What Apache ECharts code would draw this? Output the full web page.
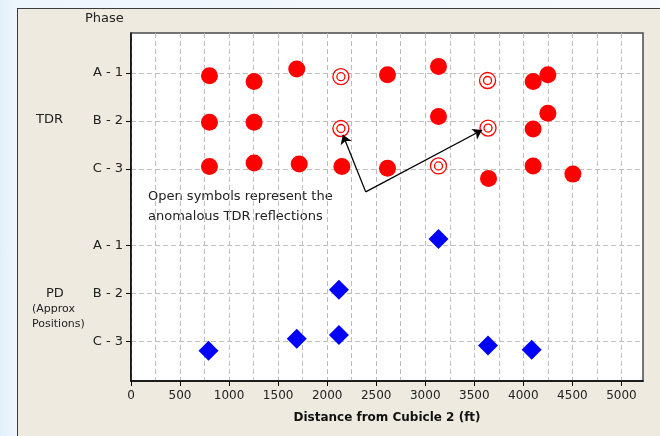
<!DOCTYPE html>
<html>
<head>
<meta charset="utf-8">
<script src="https://cdn.jsdelivr.net/npm/echarts@6/dist/echarts.min.js"></script>
<style>
  html, body { margin: 0; padding: 0; }
  body {
    width: 660px; height: 436px; overflow: hidden; position: relative;
    background: linear-gradient(to right, #e3f0fb 0px, #eef6fd 17px, #f6fafe 100%);
  }
  #panel {
    position: absolute; left: 17px; top: 8px; width: 660px; height: 440px;
    background: #eeeae0; border-left: 1.5px solid #3c3c3c; border-top: 1.5px solid #3c3c3c;
  }
  #chart { position: absolute; left: 0; top: 0; width: 660px; height: 436px; }
</style>
</head>
<body>
<div id="panel"></div>
<div id="chart"></div>
<script>
// 坐标刻度
var xTicks = [0, 500, 1000, 1500, 2000, 2500, 3000, 3500, 4000, 4500, 5000];
var rowValues = [1, 2, 3, 4.6, 5.6, 6.6];
var rowLabels = ["A - 1", "B - 2", "C - 3", "A - 1", "B - 2", "C - 3"];

// TDR 实心点 [距离, 相位行]
var tdrSolid = [
  [800, 1.06], [1255, 1.18], [1690, 0.92], [2615, 1.04], [3135, 0.87], [4100, 1.18], [4250, 1.04],
  [800, 2.03], [1255, 2.03], [3135, 1.91], [4100, 2.17], [4250, 1.84],
  [800, 2.95], [1255, 2.88], [1715, 2.90], [2150, 2.95], [2615, 2.99], [3645, 3.20], [4100, 2.94], [4505, 3.11]
];
// TDR 空心点（异常反射）
var tdrOpen = [
  [2140, 1.08], [3635, 1.16],
  [2140, 2.16], [3640, 2.15],
  [3135, 2.94]
];
// PD 菱形
var pdPoints = [
  [3135, 4.46],
  [2120, 5.52],
  [2120, 6.46], [1690, 6.54], [790, 6.79], [3640, 6.68], [4085, 6.77]
];

var font = "DejaVu Sans";
var myChart = echarts.init(document.getElementById("chart"));

var option = {
  backgroundColor: "transparent",
  animation: false,
  grid: {
    left: 131, right: 17, top: 33, bottom: 55,
    show: true,
    backgroundColor: "#ffffff",
    borderColor: "#4a4a4a",
    borderWidth: 1.5
  },
  xAxis: {
    type: "value",
    min: 0,
    max: 5220,
    interval: 500,
    name: "Distance from Cubicle 2 (ft)",
    nameLocation: "middle",
    nameGap: 31,
    nameTextStyle: { color: "#111", fontSize: 12, fontWeight: "bold", fontFamily: font },
    axisLine: { show: true, lineStyle: { color: "#000", width: 1.5 } },
    axisTick: { show: true, length: 5, customValues: xTicks, lineStyle: { color: "#000" } },
    axisLabel: {
      customValues: xTicks,
      color: "#222", fontSize: 12, fontFamily: font, margin: 9,
      formatter: function (v) { return String(v); }
    },
    splitLine: { show: true, lineStyle: { color: "#bdbdbd", type: [5, 3], width: 1 } },
    minorTick: { show: false, splitNumber: 2 },
    minorSplitLine: { show: true, lineStyle: { color: "#bdbdbd", type: [5, 3], width: 1 } }
  },
  yAxis: {
    type: "value",
    inverse: true,
    min: 0.17,
    max: 7.42,
    axisLine: { show: true, lineStyle: { color: "#000", width: 1.5 } },
    axisTick: { show: true, length: 5, customValues: rowValues, lineStyle: { color: "#000" } },
    axisLabel: {
      customValues: rowValues,
      color: "#222", fontSize: 13, fontFamily: font, margin: 8,
      formatter: function (v) {
        for (var i = 0; i < rowValues.length; i++) {
          if (Math.abs(rowValues[i] - v) < 0.01) return rowLabels[i];
        }
        return "";
      }
    },
    splitLine: { show: true, lineStyle: { color: "#bdbdbd", type: [5, 3], width: 1 } }
  },
  graphic: [
    { type: "text", left: 85, top: 12, style: { text: "Phase", fill: "#222", font: "13px " + font } },
    { type: "text", left: 36, top: 113, style: { text: "TDR", fill: "#222", font: "13px " + font } },
    { type: "text", left: 46, top: 287, style: { text: "PD", fill: "#222", font: "13px " + font } },
    { type: "text", left: 32, top: 304, style: { text: "(Approx", fill: "#222", font: "11px " + font } },
    { type: "text", left: 32, top: 319, style: { text: "Positions)", fill: "#222", font: "11px " + font } },
    {
      type: "text", left: 148, top: 187,
      style: { text: "Open symbols represent the\nanomalous TDR reflections", fill: "#222", font: "13px " + font, lineHeight: 20 }
    }
  ],
  series: [
    {
      name: "TDR",
      type: "scatter",
      data: tdrSolid,
      symbol: "circle",
      symbolSize: 17,
      itemStyle: { color: "#ff0000", opacity: 1 }
    },
    {
      name: "TDR open",
      type: "scatter",
      data: tdrOpen,
      symbol: "circle",
      symbolSize: 16,
      itemStyle: { color: "#ffffff", borderColor: "#ff0000", borderWidth: 1.3, opacity: 1 },
      markLine: {
        silent: true,
        animation: false,
        symbol: ["none", "arrow"],
        symbolSize: 9,
        label: { show: false },
        lineStyle: { color: "#000", width: 1.3, type: "solid" },
        data: [
          [{ coord: [2393, 3.48] }, { coord: [2160, 2.29] }],
          [{ coord: [2393, 3.48] }, { coord: [3580, 2.19] }]
        ]
      }
    },
    {
      name: "TDR open inner",
      type: "scatter",
      data: tdrOpen,
      symbol: "circle",
      symbolSize: 8,
      itemStyle: { color: "#ffffff", borderColor: "#ff0000", borderWidth: 1.3, opacity: 1 }
    },
    {
      name: "PD",
      type: "scatter",
      data: pdPoints,
      symbol: "diamond",
      symbolSize: 20,
      itemStyle: { color: "#0000ff", opacity: 1 }
    }
  ]
};

myChart.setOption(option);
</script>
</body>
</html>
